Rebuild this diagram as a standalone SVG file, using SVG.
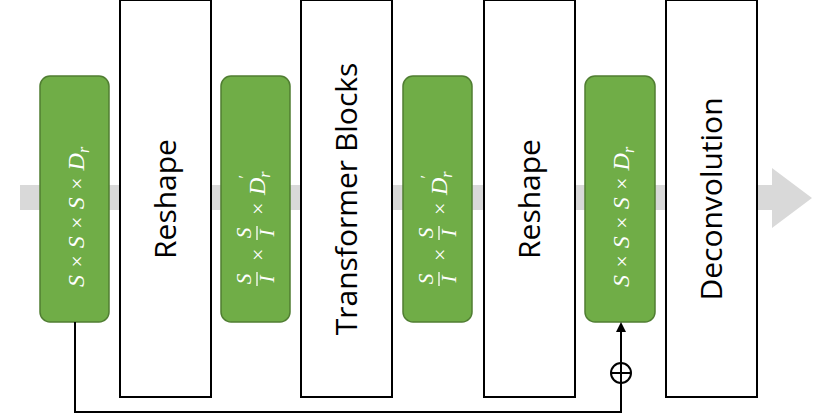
<svg xmlns="http://www.w3.org/2000/svg" width="830" height="415" viewBox="0 0 830 415">
<style>
.g{fill:#70ad47;stroke:#507e32;stroke-width:1.5}
.w{fill:#fff;stroke:#000;stroke-width:2}
.m{font-family:"Liberation Serif",serif;font-style:italic;font-size:24px;fill:#fff}
.o{font-family:"Liberation Serif",serif;font-size:22px;fill:#fff}
.f{font-family:"Liberation Serif",serif;font-style:italic;font-size:21px;fill:#fff;text-anchor:middle}
.l{font-family:"Open Sans","Liberation Sans",sans-serif;font-size:30px;fill:#000;text-anchor:middle}
.c{fill:none;stroke:#000;stroke-width:2}
</style>
<defs>
<marker id="a" markerWidth="10" markerHeight="10" refX="8" refY="5" orient="auto" markerUnits="userSpaceOnUse"><path d="M0,0 L10,5 L0,10Z" fill="#000"/></marker>
</defs>
<polygon id="flow" points="20,185 772,185 772,168 812,198 772,228 772,210 20,210" fill="#d9d9d9"/>
<g id="n1"><rect class="g" x="40" y="76" width="69" height="246" rx="10"/>
<g transform="translate(84,199) rotate(-90)"><text class="m" x="-88" y="0">S <tspan class="o">×</tspan> S <tspan class="o">×</tspan> S <tspan class="o">×</tspan> D<tspan font-size="16" dy="5">r</tspan></text></g></g>
<g id="n2"><rect class="w" x="120" y="0" width="91" height="397"/><text class="l" transform="translate(176,199) rotate(-90)">Reshape</text></g>
<g id="n3"><rect class="g" x="221" y="76" width="69" height="246" rx="10"/>
<g transform="translate(255,199) rotate(-90)">
<text class="f" x="-80" y="-4">S</text><text class="f" x="-80" y="19">I</text><line x1="-87" y1="2" x2="-73" y2="2" stroke="#fff" stroke-width="1.3"/>
<text class="o" x="-62" y="10">×</text>
<text class="f" x="-34" y="-4">S</text><text class="f" x="-34" y="19">I</text><line x1="-41" y1="2" x2="-27" y2="2" stroke="#fff" stroke-width="1.3"/>
<text class="o" x="-16" y="10">×</text>
<text class="m" x="4" y="10">D<tspan font-size="16" dy="5">r</tspan><tspan font-size="16" dx="-8" dy="-20">′</tspan></text>
</g></g>
<g id="n4"><rect class="w" x="301" y="0" width="91" height="397"/><text class="l" transform="translate(357,199) rotate(-90)">Transformer Blocks</text></g>
<g id="n5"><rect class="g" x="403" y="76" width="69" height="246" rx="10"/>
<g transform="translate(437,199) rotate(-90)">
<text class="f" x="-80" y="-4">S</text><text class="f" x="-80" y="19">I</text><line x1="-87" y1="2" x2="-73" y2="2" stroke="#fff" stroke-width="1.3"/>
<text class="o" x="-62" y="10">×</text>
<text class="f" x="-34" y="-4">S</text><text class="f" x="-34" y="19">I</text><line x1="-41" y1="2" x2="-27" y2="2" stroke="#fff" stroke-width="1.3"/>
<text class="o" x="-16" y="10">×</text>
<text class="m" x="4" y="10">D<tspan font-size="16" dy="5">r</tspan><tspan font-size="16" dx="-8" dy="-20">′</tspan></text>
</g></g>
<g id="n6"><rect class="w" x="484" y="0" width="91" height="397"/><text class="l" transform="translate(540,199) rotate(-90)">Reshape</text></g>
<g id="n7"><rect class="g" x="585" y="76" width="70" height="246" rx="10"/>
<g transform="translate(629,199) rotate(-90)"><text class="m" x="-88" y="0">S <tspan class="o">×</tspan> S <tspan class="o">×</tspan> S <tspan class="o">×</tspan> D<tspan font-size="16" dy="5">r</tspan></text></g></g>
<g id="n8"><rect class="w" x="666" y="0" width="91" height="397"/><text class="l" transform="translate(722,199) rotate(-90)">Deconvolution</text></g>
<g id="connectors">
<path class="c" d="M75,322 V412 H621 V324" marker-end="url(#a)"/>
<circle cx="621" cy="373" r="10" fill="#fff" stroke="#000" stroke-width="2"/>
<path class="c" d="M611,373 H631 M621,363 V383"/>
</g>
</svg>
